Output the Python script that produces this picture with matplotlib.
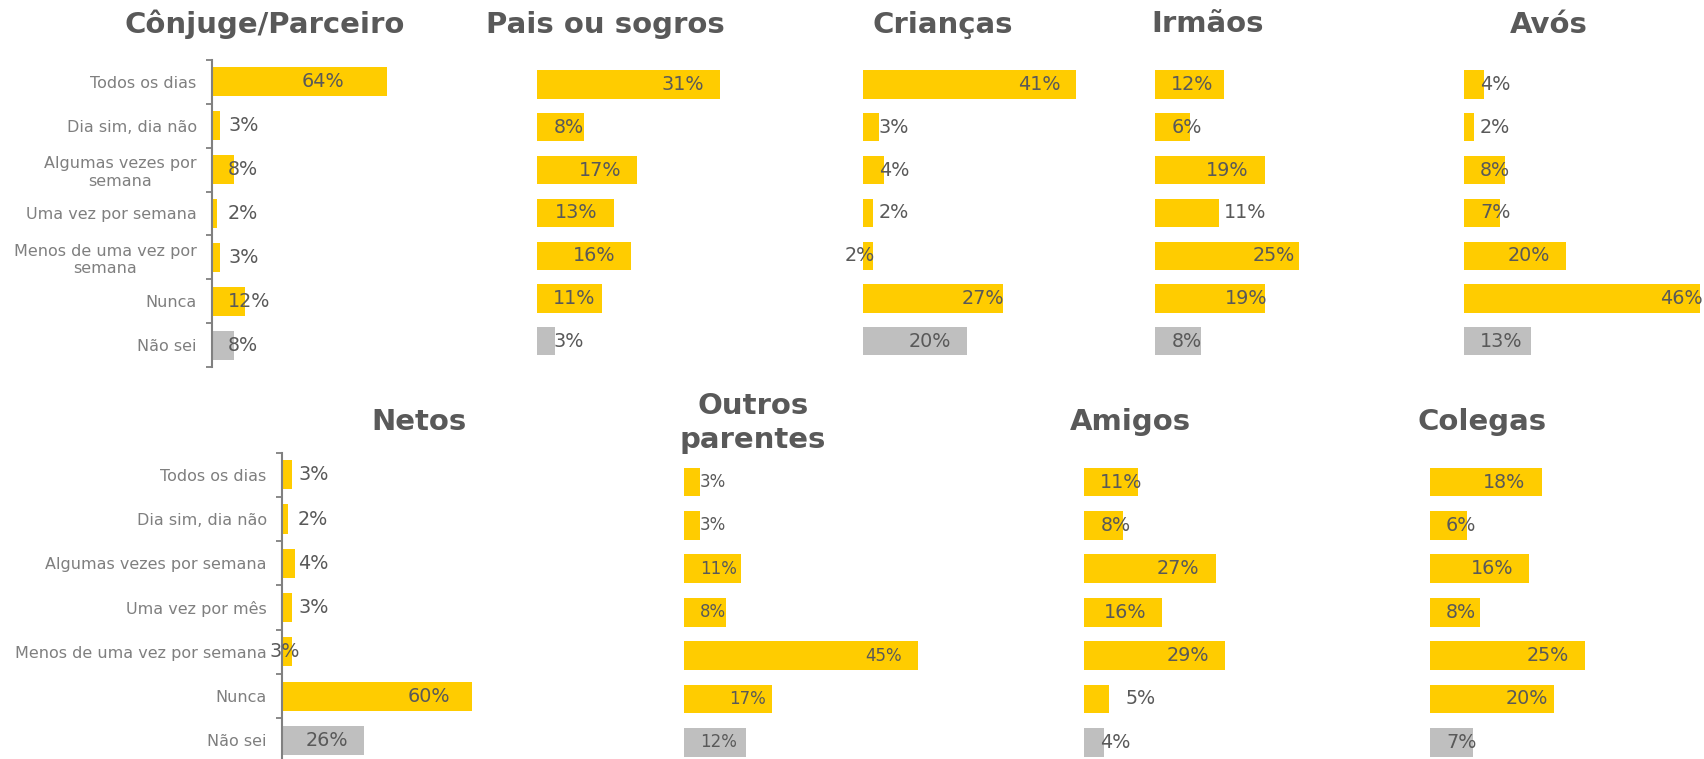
import numpy as np
import matplotlib.pyplot as plt

# categories
cats_top = ["Todos os dias", "Dia sim, dia não", "Algumas vezes por\nsemana",
            "Uma vez por semana", "Menos de uma vez por\nsemana", "Nunca", "Não sei"]
cats_bottom = ["Todos os dias", "Dia sim, dia não", "Algumas vezes por semana",
               "Uma vez por mês", "Menos de uma vez por semana", "Nunca", "Não sei"]

titles = ["Cônjuge/Parceiro", "Pais ou sogros", "Crianças", "Irmãos", "Avós",
          "Netos", "Outros\nparentes", "Amigos", "Colegas"]

# values in %
conjuge = [64, 3, 8, 2, 3, 12, 8]
pais = [31, 8, 17, 13, 16, 11, 3]
criancas = [41, 3, 4, 2, 2, 27, 20]
irmaos = [12, 6, 19, 11, 25, 19, 8]
avos = [4, 2, 8, 7, 20, 46, 13]
netos = [3, 2, 4, 3, 3, 60, 26]
outros = [3, 3, 11, 8, 45, 17, 12]
amigos = [11, 8, 27, 16, 29, 5, 4]
colegas = [18, 6, 16, 8, 25, 20, 7]

series = [conjuge, pais, criancas, irmaos, avos, netos, outros, amigos, colegas]

# layout in pixels: bar origin x, axes top, axes height, px per %, title x, title baseline, label size
layout = [
    (212, 60.0, 307.0, 2.73, 264.5, 33.3, 13.8),
    (537.3, 63.1, 299.6, 5.88, 605.5, 33.3, 13.8),
    (863, 63.1, 299.6, 5.2, 943, 33.0, 13.8),
    (1155.3, 63.1, 299.6, 5.75, 1208, 32.3, 13.8),
    (1464, 63.1, 299.6, 5.12, 1548.5, 33.0, 13.8),
    (282, 452.6, 310.0, 3.17, 418.7, 430, 13.8),
    (684, 460.3, 303.8, 5.2, 753, 448.3, 12),
    (1084.3, 460.3, 303.8, 4.86, 1130, 430, 13.8),
    (1430, 460.3, 303.8, 6.2, 1481.7, 430, 13.8),
]

# manually moved labels: (panel, row) -> (ha, shift in px from bar end)
label_moves = {
    (0, 0): ("right", -42),
    (2, 4): ("right", 1),
    (2, 5): ("right", 1),
    (3, 3): ("left", 5),
    (3, 4): ("right", -4),
    (3, 5): ("right", 3),
    (4, 5): ("right", 3),
    (5, 4): ("right", 8),
    (5, 5): ("right", -22),
    (6, 5): ("right", -7),
    (7, 5): ("left", 17),
    (8, 5): ("right", -6),
}

W, H = 1704, 759
fig = plt.figure(figsize=(W / 100, H / 100), dpi=100)
renderer = fig.canvas.get_renderer()

yellow = "#FFCC00"
grey_bar = "#BFBFBF"
dark = "#595959"
pad = 16  # px
px2pt = 0.72

for p, (vals, title, lay) in enumerate(zip(series, titles, layout)):
    x0, top, h, scale, tx, ty, lsize = lay
    w = 240
    ax = fig.add_axes([x0 / W, 1 - (top + h) / H, w / W, h / H])
    y = np.arange(len(vals))
    colors = [yellow] * (len(vals) - 1) + [grey_bar]
    ax.barh(y, vals, height=0.66, color=colors)
    ax.set_xlim(0, w / scale)
    ax.set_ylim(len(vals) - 0.5, -0.5)
    ax.set_xticks([])
    for s in ["top", "right", "bottom"]:
        ax.spines[s].set_visible(False)

    if p in (0, 5):
        cats = cats_top if p == 0 else cats_bottom
        ax.spines["left"].set_color("#808080")
        ax.spines["left"].set_linewidth(1.5)
        ax.set_yticks(y)
        ax.set_yticklabels(cats, fontsize=11.5, color="#7f7f7f")
        for lbl in ax.get_yticklabels():
            lbl.set_multialignment("center")
        ax.tick_params(axis="y", which="major", length=0, pad=11)
        ax.set_yticks(np.arange(-0.5, len(vals), 1), minor=True)
        ax.tick_params(axis="y", which="minor", length=4, width=1.3, color="#808080")
    else:
        ax.spines["left"].set_visible(False)
        ax.set_yticks([])

    for i, v in enumerate(vals):
        txt = f"{v}%"
        if (p, i) in label_moves:
            ha, dx = label_moves[(p, i)]
            ax.annotate(txt, xy=(v, i), xytext=(dx * px2pt, 0), textcoords="offset points",
                        ha=ha, va="center", fontsize=lsize, color=dark, annotation_clip=False)
        else:
            t = ax.annotate(txt, xy=(v, i), xytext=(-pad * px2pt, 0), textcoords="offset points",
                            ha="right", va="center", fontsize=lsize, color=dark,
                            annotation_clip=False)
            bb = t.get_window_extent(renderer)
            start = ax.transData.transform((0, i))[0]
            if bb.x0 < start + pad:
                t.xy = (0, i)
                t.set_position((pad * px2pt, 0))
                t.set_ha("left")

    fig.text(tx / W, 1 - ty / H, title, ha="center", va="baseline", fontsize=21,
             fontweight="bold", color=dark, linespacing=1.3, multialignment="center")

fig.savefig("out.png", dpi=100)
